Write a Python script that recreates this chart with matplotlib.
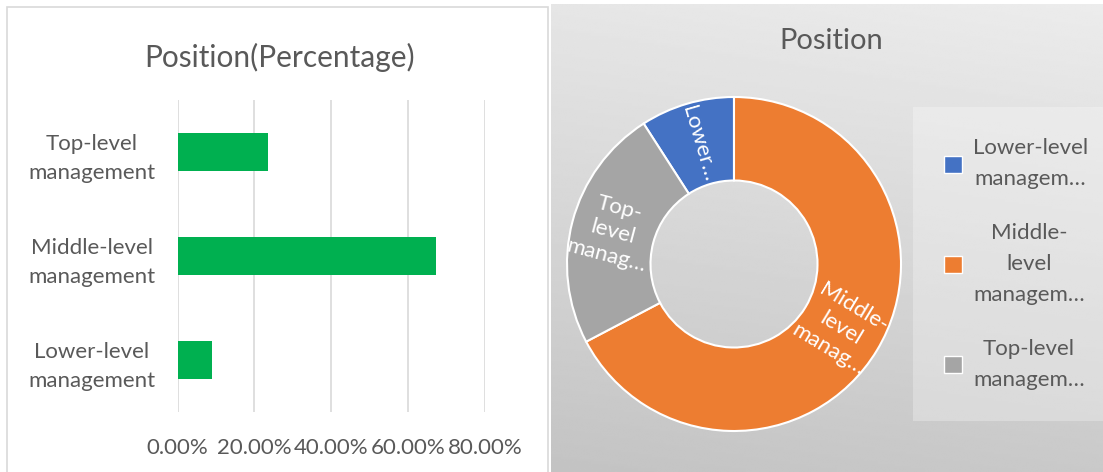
import numpy as np
import matplotlib
matplotlib.use("Agg")
import matplotlib.pyplot as plt
from matplotlib.patches import Rectangle, Patch
from matplotlib.ticker import PercentFormatter

plt.rcParams['font.family'] = ['Lato', 'DejaVu Sans']

# Data
bar_categories = ["Lower-level\nmanagement", "Middle-level\nmanagement", "Top-level\nmanagement"]
bar_values = [0.091, 0.673, 0.236]
x_ticks = [0.0, 0.2, 0.4, 0.6, 0.8]

donut_labels = ["Lower…", "Middle-\nlevel\nmanag…", "Top-\nlevel\nmanag…"]
legend_labels = ["Lower-level\nmanagem…", "Middle-\nlevel\nmanagem…", "Top-level\nmanagem…"]
donut_shares = [9.1, 67.3, 23.6]
donut_colors = ["#4472C4", "#ED7D31", "#A5A5A5"]

TEXT = "#595959"
W, H = 1103, 472
fig = plt.figure(figsize=(W / 100, H / 100), dpi=100)

def fx(px):
    return px / W

def fy(py):
    return 1 - py / H

# Left panel frame
frame = fig.add_axes([0, 0, 1, 1], zorder=-5)
frame.set_xlim(0, W)
frame.set_ylim(H, 0)
frame.axis("off")
frame.add_patch(Rectangle((7, 7), 541, 480, facecolor="white",
                          edgecolor="#d9d9d9", lw=1.2))

# Right panel gradient background
bg = fig.add_axes([fx(551), 0, fx(W - 551), fy(4)], zorder=-4)
yy, xx = np.mgrid[0:1:200j, 0:1:200j]
t = 0.85 * yy + 0.15 * (1 - xx)
shade = 0.925 - (0.925 - 0.765) * t
bg.imshow(shade, cmap="gray", vmin=0, vmax=1, aspect="auto",
          extent=[0, 1, 1, 0], interpolation="bilinear")
bg.set_xlim(0, 1)
bg.set_ylim(1, 0)
bg.axis("off")
bg.add_patch(Rectangle(((913 - 551) / (W - 551), (107 - 4) / (H - 4)),
                       (W - 913) / (W - 551), (421 - 107) / (H - 4),
                       facecolor="white", alpha=0.28, edgecolor="none"))

# Bar chart
ax = fig.add_axes([fx(177.5), fy(412), fx(485 - 177.5), fy(100) - fy(412)])
ypos = np.arange(len(bar_categories))
ax.barh(ypos, bar_values, height=0.36, color="#00B050", zorder=3)
ax.set_xlim(0, 0.8)
ax.set_ylim(-0.5, len(bar_categories) - 0.5)
ax.set_xticks(x_ticks)
ax.xaxis.set_major_formatter(PercentFormatter(xmax=1, decimals=2))
ax.set_yticks(ypos)
ax.set_yticklabels(bar_categories, multialignment="center", linespacing=1.55)
ax.grid(axis="x", color="#d9d9d9", lw=1.2, zorder=0)
for s in ax.spines.values():
    s.set_visible(False)
ax.tick_params(axis="both", length=0, labelsize=16, labelcolor=TEXT)
ax.tick_params(axis="x", pad=19)
ax.tick_params(axis="y", pad=16)
ax.set_facecolor("none")
fig.text(fx(280), fy(57), "Position(Percentage)", ha="center", va="center",
         fontsize=21.5, color=TEXT)

# Donut chart
cx, cy, r = 734, 264, 167
dax = fig.add_axes([fx(cx - r), fy(cy + r), fx(2 * r), fy(cy - r) - fy(cy + r)])
start = 90 + 360 * donut_shares[0] / sum(donut_shares)
wedges, _ = dax.pie(donut_shares, colors=donut_colors, startangle=start,
                    counterclock=False, radius=1,
                    wedgeprops=dict(width=0.5, edgecolor="white", linewidth=1.5))
dax.set_xlim(-1, 1)
dax.set_ylim(-1, 1)
dax.set_facecolor("none")

for w, lab in zip(wedges, donut_labels):
    mid = (w.theta1 + w.theta2) / 2
    rad = np.deg2rad(mid)
    rr = 0.75
    rot = mid - 180 if np.cos(rad) < 0 else mid
    if rot < -180:
        rot += 360
    dax.text(rr * np.cos(rad), rr * np.sin(rad), lab, ha="center", va="center",
             rotation=rot, rotation_mode="anchor", color="white", fontsize=16,
             linespacing=1.3, multialignment="center")

fig.text(fx(831), fy(41), "Position", ha="center", va="center",
         fontsize=21, color=TEXT)

handles = [Patch(facecolor=c, edgecolor="white", lw=1) for c in donut_colors]
leg = fig.legend(handles, legend_labels, loc="center left",
                 bbox_to_anchor=(fx(933), fy(264)), frameon=False,
                 fontsize=16, labelcolor=TEXT, handlelength=0.8,
                 handleheight=0.8, handletextpad=0.5, labelspacing=1.5,
                 borderpad=0)
for txt in leg.get_texts():
    txt.set_multialignment("center")
    txt.set_linespacing(1.7)

fig.savefig("out.png", dpi=100)
